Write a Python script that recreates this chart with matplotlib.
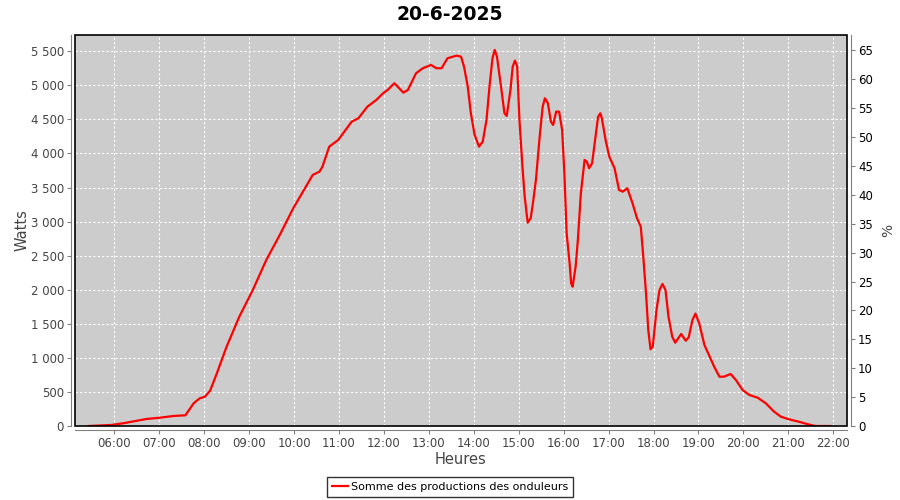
import numpy as np
import pandas as pd
import matplotlib
matplotlib.use("Agg")
import matplotlib.pyplot as plt
import matplotlib.dates as mdates
from matplotlib.ticker import FuncFormatter, MultipleLocator
from matplotlib.patches import Rectangle

plt.rcParams["font.family"] = ["DejaVu Sans"]

title = "20-6-2025"
series_name = "Somme des productions des onduleurs"

heures = ["05:26", "05:56", "06:12", "06:43", "07:01", "07:19", "07:35", "07:46",
          "07:54", "08:01", "08:08", "08:17", "08:30", "08:47", "09:05", "09:23",
          "09:41", "09:59", "10:08", "10:25", "10:34", "10:38", "10:47", "10:59",
          "11:17", "11:26", "11:38", "11:50", "11:59", "12:05", "12:14", "12:26",
          "12:32", "12:43", "12:52", "13:03", "13:10", "13:17", "13:25", "13:37",
          "13:43", "13:47", "13:52", "13:56", "14:01", "14:07", "14:12", "14:17",
          "14:21", "14:25", "14:28", "14:31", "14:37", "14:41", "14:44", "14:49",
          "14:52", "14:55", "14:58", "15:01", "15:05", "15:08", "15:12", "15:16",
          "15:19", "15:23", "15:28", "15:32", "15:35", "15:39", "15:43", "15:46",
          "15:50", "15:54", "15:58", "16:01", "16:04", "16:08", "16:10", "16:12",
          "16:16", "16:19", "16:23", "16:28", "16:31", "16:34", "16:38", "16:42",
          "16:46", "16:49", "16:51", "16:56", "17:01", "17:08", "17:14", "17:19",
          "17:25", "17:32", "17:38", "17:43", "17:46", "17:50", "17:53", "17:56",
          "17:59", "18:04", "18:08", "18:12", "18:16", "18:20", "18:25", "18:29",
          "18:37", "18:43", "18:47", "18:52", "18:56", "19:01", "19:08", "19:14",
          "19:21", "19:28", "19:34", "19:43", "19:50", "19:59", "20:08", "20:19",
          "20:30", "20:41", "20:50", "21:01", "21:14", "21:25", "21:32", "21:36",
          "21:56"]
watts = [0, 15, 40, 103, 122, 147, 157, 333,
         406, 430, 518, 773, 1164, 1605, 1996, 2437,
         2804, 3196, 3366, 3685, 3733, 3807, 4100, 4198,
         4467, 4517, 4687, 4786, 4884, 4932, 5031, 4893,
         4932, 5178, 5251, 5300, 5251, 5251, 5398, 5436,
         5421, 5275, 4981, 4600, 4280, 4100, 4174, 4492,
         4981, 5398, 5520, 5421, 4932, 4590, 4551, 4932,
         5275, 5363, 5275, 4492, 3807, 3366, 2984, 3049,
         3269, 3611, 4247, 4687, 4811, 4737, 4467, 4419,
         4614, 4614, 4345, 3710, 2829, 2388, 2095, 2045,
         2339, 2730, 3416, 3905, 3880, 3783, 3856, 4199,
         4540, 4590, 4517, 4199, 3953, 3783, 3464, 3440,
         3489, 3269, 3049, 2926, 2535, 1948, 1409, 1126,
         1164, 1703, 1996, 2085, 1996, 1605, 1311, 1223,
         1351, 1252, 1300, 1556, 1650, 1508, 1189, 1042,
         871, 724, 724, 763, 675, 528, 455, 416,
         333, 210, 137, 98, 63, 29, 10, 0,
         0]

t = pd.to_datetime(["2025-06-20 " + h for h in heures])

fig = plt.figure(figsize=(9, 5), dpi=100)
ax = fig.add_axes([75 / 900, 74 / 500, 772 / 900, 391 / 500])
ax.set_facecolor("#cccccc")

ax.plot(t, watts, color="red", lw=1.6, label=series_name, zorder=3)

ax.set_xlim(pd.Timestamp("2025-06-20 05:07:36"), pd.Timestamp("2025-06-20 22:18:20"))
ax.set_ylim(0, 5739)
ax.xaxis.set_major_locator(mdates.HourLocator(byhour=range(6, 23)))
ax.xaxis.set_major_formatter(mdates.DateFormatter("%H:%M"))
ax.yaxis.set_major_locator(MultipleLocator(500))
ax.yaxis.set_major_formatter(FuncFormatter(lambda v, p: f"{int(v):,}".replace(",", " ")))

ax.grid(True, color="white", ls=(0, (2, 2)), lw=0.8)
ax.set_axisbelow(True)

for s in ["top", "right"]:
    ax.spines[s].set_visible(False)
for s in ["left", "bottom"]:
    ax.spines[s].set_position(("outward", 3))
    ax.spines[s].set_color("#808080")
ax.tick_params(direction="out", length=3, pad=2, color="#808080",
               labelcolor="#444444", labelsize=8.5)
ax.add_patch(Rectangle((0, 0), 1, 1, transform=ax.transAxes, fill=False,
                       ec="black", lw=1.2, clip_on=False, zorder=5))

ax.set_xlabel("Heures", fontsize=10.5, color="#444444", labelpad=1)
ax.set_ylabel("Watts", fontsize=10.5, color="#444444", labelpad=1)

ax2 = ax.twinx()
ax2.set_ylim(0, 67.65)
ax2.yaxis.set_major_locator(MultipleLocator(5))
for s in ["top", "left", "bottom"]:
    ax2.spines[s].set_visible(False)
ax2.spines["right"].set_position(("outward", 3))
ax2.spines["right"].set_color("#808080")
ax2.tick_params(direction="out", length=3, pad=2, color="#808080",
                labelcolor="black", labelsize=8.5)
ax2.set_ylabel("%", fontsize=10, color="#444444", labelpad=6)

fig.text(0.5, 1 - 15 / 500, title, ha="center", va="center",
         fontsize=13.5, fontweight="bold")

leg = fig.legend(loc="center", bbox_to_anchor=(450 / 900, 1 - 487 / 500), fontsize=8,
                 frameon=True, fancybox=False, handlelength=1.4, borderpad=0.45,
                 handletextpad=0.25, borderaxespad=0)
leg.get_frame().set_edgecolor("black")
leg.get_frame().set_linewidth(1.0)

fig.savefig("out.png", dpi=100)
